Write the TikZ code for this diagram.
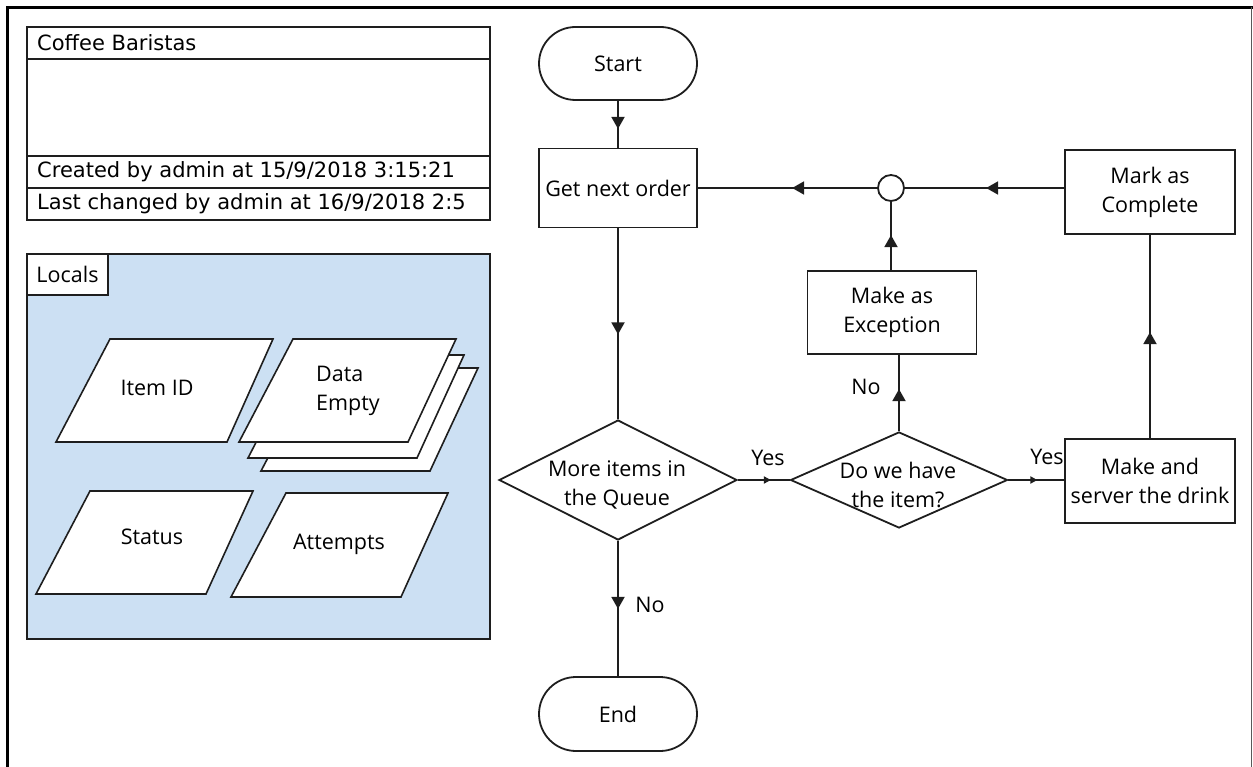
\documentclass[tikz,border=0pt]{standalone}
\usepackage{fontspec}
\setmainfont{DejaVu Sans}
\newfontfamily\flowfont{Open Sans}
\usetikzlibrary{shapes.geometric,shapes.misc,arrows.meta,decorations.markings}
\definecolor{localsblue}{RGB}{204,224,243}
\definecolor{edge}{RGB}{30,30,30}
\tikzset{
  ln/.style={line width=1.8pt, draw=edge},
  boxnode/.style={draw=edge, line width=1.8pt, fill=white, inner sep=0pt, align=center, font=\flowfont\fontsize{21.5}{29}\selectfont},
  termnode/.style={boxnode, rounded rectangle, minimum width=158pt, minimum height=73pt},
  procnode/.style={boxnode, rectangle, minimum width=158pt, minimum height=79pt},
  dianode/.style={draw=edge, line width=1.8pt, fill=white, diamond, inner sep=0pt},
  txt/.style={inner sep=0pt, align=center, font=\flowfont\fontsize{21.5}{29}\selectfont},
  hdrtxt/.style={inner sep=0pt, anchor=west, font=\fontsize{21}{25}\selectfont},
  bigmid/.style={postaction={decorate}, decoration={markings, mark=at position #1 with {\arrow{Triangle[length=12pt,width=13pt]}}}},
  smallmid/.style={postaction={decorate}, decoration={markings, mark=at position #1 with {\arrow{Triangle[length=7pt,width=7pt]}}}},
  para/.style={draw=edge, line width=1.6pt, fill=white}
}
\begin{document}
\begin{tikzpicture}[x=1pt,y=-1pt]
\useasboundingbox (0,0) rectangle (1253,767);
% frame
\draw[line width=3pt] (7.5,767) -- (7.5,7.5) -- (1253,7.5);
\draw[line width=1.8pt, draw=black!65] (1251.5,7.5) -- (1251.5,767);

% header box
\draw[ln, fill=white] (27,27) rectangle (490,220);
\draw[ln] (27,59) -- (490,59);
\draw[ln] (27,156) -- (490,156);
\draw[ln] (27,188) -- (490,188);
\node[hdrtxt] (title) at (37,43) {Coffee Baristas};
\node[hdrtxt] (created) at (37,172) {Created by admin at 15/9/2018 3:15:21};
\node[hdrtxt] (changed) at (37,204) {Last changed by admin at 16/9/2018 2:5};

% locals panel
\draw[ln, fill=localsblue] (27,254) rectangle (490,639);
\draw[ln, fill=white] (27,254) rectangle (108,295);
\node[txt] (locals) at (67.5,274) {Locals};

% parallelograms
\draw[para] (110,339) -- (273,339) -- (227,442) -- (56,442) -- cycle;
\node[txt] (itemid) at (157,388) {Item ID};
\draw[para] (315,368) -- (478,368) -- (430,471) -- (261,471) -- cycle;
\draw[para] (301,355) -- (464,355) -- (417,458) -- (248,458) -- cycle;
\draw[para] (293,339) -- (456,339) -- (408,442) -- (239,442) -- cycle;
\node[txt, align=left, anchor=west] (data) at (316,391) {Data\\Empty};
\draw[para] (90,491) -- (253,491) -- (206,594) -- (36,594) -- cycle;
\node[txt] (status) at (152,537) {Status};
\draw[para] (286,493) -- (448,493) -- (401,597) -- (231,597) -- cycle;
\node[txt] (attempts) at (339,544) {Attempts};

% flowchart nodes
\node[termnode] (start) at (618,63.5) {Start};
\node[procnode] (get) at (618,188) {Get next order};
\node[dianode, minimum width=238pt, minimum height=120pt] (mq) at (618,480) {};
\node[txt] (mqt) at (617,485) {More items in\\the Queue};
\node[termnode, minimum height=74pt] (end) at (618,714) {End};
\node[circle, draw=edge, line width=1.8pt, fill=white, minimum size=26pt, inner sep=0pt] (jn) at (891,188) {};
\node[procnode, minimum width=169pt, minimum height=83pt] (exc) at (892,312.5) {Make as\\Exception};
\node[dianode, minimum width=217pt, minimum height=96pt] (dq) at (899,480) {};
\node[txt] (dqt) at (898,485) {Do we have\\the item?};
\node[procnode, minimum width=170pt, minimum height=84pt] (msd) at (1150,481) {Make and\\server the drink};
\node[procnode, minimum width=170pt, minimum height=84pt] (mark) at (1150,192) {Mark as\\Complete};

% connectors
\draw[ln, bigmid=28pt] (start.south) -- (get.north);
\draw[ln, bigmid=106pt] (get.south) -- (mq.north);
\draw[ln, bigmid=68pt] (mq.south) -- (end.north);
\draw[ln, smallmid=33pt] (mq.east) -- (dq.west);
\draw[ln, smallmid=29pt] (dq.east) -- (msd.west |- dq.east);
\draw[ln, bigmid=42pt] (dq.north) -- (dq.north |- exc.south);
\draw[ln, bigmid=35pt] (exc.north -| jn.south) -- (jn.south);
\draw[ln, bigmid=106pt] (msd.north) -- (mark.south);
\draw[ln, bigmid=78pt] (mark.west |- jn.east) -- (jn.east);
\draw[ln, bigmid=85pt] (jn.west) -- (get.east);

% labels
\node[txt] (yes1) at (768,458) {Yes};
\node[txt] (yes2) at (1047,457) {Yes};
\node[txt] (no1) at (866,387) {No};
\node[txt] (no2) at (650,605) {No};
\end{tikzpicture}
\end{document}
